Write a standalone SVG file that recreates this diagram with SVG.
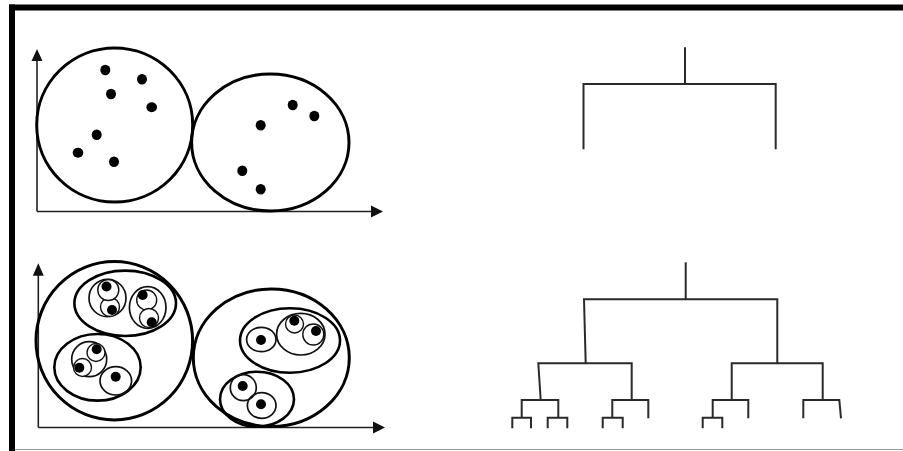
<svg xmlns="http://www.w3.org/2000/svg" width="903" height="451" viewBox="0 0 903 451">
  <style>
    .frame { fill: #000; }
    .axis { stroke: #222; stroke-width: 1.6; fill: none; }
    .head { fill: #111; }
    .big { stroke: #000; stroke-width: 3; fill: none; }
    .mid { stroke: #000; stroke-width: 2.6; fill: none; }
    .inner { stroke: #111; stroke-width: 1.7; fill: none; }
    .small { stroke: #111; stroke-width: 1.4; fill: #fff; }
    .dot { fill: #000; }
    .tree { stroke: #2a2a2a; stroke-width: 2; fill: none; stroke-linejoin: miter; }
  </style>
  <rect width="903" height="451" fill="#fff"/>

  <!-- frame -->
  <g id="frame">
    <rect class="frame" x="9" y="4.5" width="894" height="6"/>
    <rect class="frame" x="9" y="4.5" width="6" height="446.5"/>
    <line x1="15" y1="449.5" x2="903" y2="449.5" stroke="#9a9a9a" stroke-width="1.2"/>
  </g>

  <!-- top scatter plot: two clusters -->
  <g id="plot-top">
    <line class="axis" x1="37" y1="58" x2="37" y2="211.5"/>
    <line class="axis" x1="37" y1="211.5" x2="373" y2="211.5"/>
    <polygon class="head" points="37,49 31.5,61 42.5,61"/>
    <polygon class="head" points="383,211.5 371,205.5 371,217.5"/>
  </g>
  <g id="cluster-top-1">
    <ellipse class="big" cx="114.7" cy="125" rx="78" ry="77"/>
    <ellipse class="dot" cx="105.3" cy="70" rx="5" ry="5.3"/>
    <ellipse class="dot" cx="142" cy="79.3" rx="5" ry="5.3"/>
    <ellipse class="dot" cx="111" cy="94" rx="5" ry="5.3"/>
    <ellipse class="dot" cx="151.7" cy="107.3" rx="5.3" ry="5"/>
    <ellipse class="dot" cx="96.7" cy="134.7" rx="5" ry="5.3"/>
    <ellipse class="dot" cx="78" cy="152.7" rx="5.3" ry="5"/>
    <ellipse class="dot" cx="114" cy="161.7" rx="5" ry="5.3"/>
  </g>
  <g id="cluster-top-2">
    <ellipse class="big" cx="270.3" cy="142.5" rx="78.7" ry="68.5"/>
    <ellipse class="dot" cx="292.7" cy="105" rx="5" ry="5.3"/>
    <ellipse class="dot" cx="314.3" cy="116" rx="5" ry="5.3"/>
    <ellipse class="dot" cx="260.7" cy="125.3" rx="5" ry="5.3"/>
    <ellipse class="dot" cx="242.3" cy="170.7" rx="5" ry="5.3"/>
    <ellipse class="dot" cx="260.7" cy="189.3" rx="5" ry="5.3"/>
  </g>

  <!-- bottom scatter plot: nested clusters -->
  <g id="plot-bottom">
    <line class="axis" x1="38.3" y1="273" x2="38.3" y2="427.5"/>
    <line class="axis" x1="38.3" y1="427.5" x2="374" y2="427.5"/>
    <polygon class="head" points="38.3,263.3 32.8,275.7 43.8,275.7"/>
    <polygon class="head" points="385,427.5 373,421.5 373,433.5"/>
  </g>
  <g id="cluster-left">
    <ellipse class="big" cx="114.3" cy="340.8" rx="78.3" ry="79.2"/>
  </g>
  <g id="cluster-a">
    <ellipse class="mid" cx="125.2" cy="303.3" rx="50.8" ry="32.7"/>
    <g id="cluster-a1">
      <ellipse class="inner" cx="107.5" cy="298" rx="18.5" ry="18.7"/>
      <circle class="small" cx="110" cy="307" r="9.5"/>
      <circle class="small" cx="108.3" cy="290" r="10.5"/>
      <circle class="dot" cx="106.5" cy="286.5" r="5"/>
      <circle class="dot" cx="112" cy="310" r="5"/>
    </g>
    <g id="cluster-a2">
      <ellipse class="inner" cx="147.7" cy="307.5" rx="18.3" ry="20.8"/>
      <circle class="small" cx="146.7" cy="300" r="10"/>
      <circle class="small" cx="149" cy="318" r="9.5"/>
      <circle class="dot" cx="142.7" cy="295" r="5"/>
      <circle class="dot" cx="151.7" cy="322.3" r="5"/>
    </g>
  </g>
  <g id="cluster-b">
    <ellipse class="mid" cx="97.5" cy="367.3" rx="43.2" ry="33.3"/>
    <g id="cluster-b1">
      <circle class="inner" cx="89.2" cy="359.2" r="17.5"/>
      <circle class="small" cx="96" cy="352.5" r="9"/>
      <circle class="small" cx="82.5" cy="367.5" r="9"/>
      <circle class="dot" cx="96.7" cy="349.3" r="5"/>
      <circle class="dot" cx="79.3" cy="367.7" r="5"/>
    </g>
    <g id="cluster-b2">
      <ellipse class="inner" cx="115.8" cy="380.8" rx="15.8" ry="14.2"/>
      <circle class="dot" cx="115.7" cy="376.7" r="5"/>
    </g>
  </g>
  <g id="cluster-right">
    <ellipse class="big" cx="271.3" cy="357.8" rx="78" ry="68.8"/>
  </g>
  <g id="cluster-c">
    <ellipse class="mid" cx="290" cy="340.5" rx="50" ry="32.2"/>
    <g id="cluster-c1">
      <ellipse class="inner" cx="261.3" cy="339.5" rx="14.7" ry="12.2"/>
      <circle class="dot" cx="261" cy="340" r="5"/>
    </g>
    <g id="cluster-c2">
      <ellipse class="inner" cx="300.8" cy="334.2" rx="24.2" ry="20.8"/>
      <circle class="small" cx="294.5" cy="324" r="9"/>
      <circle class="small" cx="313.3" cy="334.5" r="10.5"/>
      <circle class="dot" cx="294.3" cy="320.7" r="5"/>
      <circle class="dot" cx="316" cy="331" r="5"/>
    </g>
  </g>
  <g id="cluster-d">
    <ellipse class="mid" cx="257" cy="399.2" rx="37" ry="27.5"/>
    <g id="cluster-d1">
      <circle class="inner" cx="243.3" cy="387.7" r="13"/>
      <circle class="dot" cx="242.7" cy="386" r="5"/>
    </g>
    <g id="cluster-d2">
      <ellipse class="inner" cx="261.7" cy="405.5" rx="14.3" ry="12.8"/>
      <circle class="dot" cx="261" cy="404.3" r="5"/>
    </g>
  </g>

  <!-- dendrograms -->
  <g id="connectors">
    <g id="tree-top">
      <path class="tree" d="M685,47.3 V84 M583.5,149.3 V84 H775.7 V149.3"/>
    </g>
    <g id="tree-bottom">
      <path class="tree" d="M685.7,262.3 V299.3"/>
      <path class="tree" d="M585.7,363.3 L584,299.3 H777.3 V363.3"/>
      <!-- left subtree -->
      <path class="tree" d="M540.7,400 L538.3,363.3 H631.7 V400"/>
      <path class="tree" d="M521.7,417.7 V400 H558.3 V417.7"/>
      <path class="tree" d="M512.3,428.3 V417.7 H531 V428.3"/>
      <path class="tree" d="M547.7,428.3 V417.7 H567.3 V428.3"/>
      <path class="tree" d="M612.3,417.7 V400 H648.3 V418.3"/>
      <path class="tree" d="M602.7,428.3 V417.7 H622.7 V428.3"/>
      <!-- right subtree -->
      <path class="tree" d="M731.7,400 V363.3 H822.7 V400"/>
      <path class="tree" d="M712.7,417.7 V400 H748.3 V418.3"/>
      <path class="tree" d="M702.7,428.3 V417.7 H722.3 V428.3"/>
      <path class="tree" d="M803.3,418.3 V400 H839.3 L841,418.3"/>
    </g>
  </g>
</svg>
